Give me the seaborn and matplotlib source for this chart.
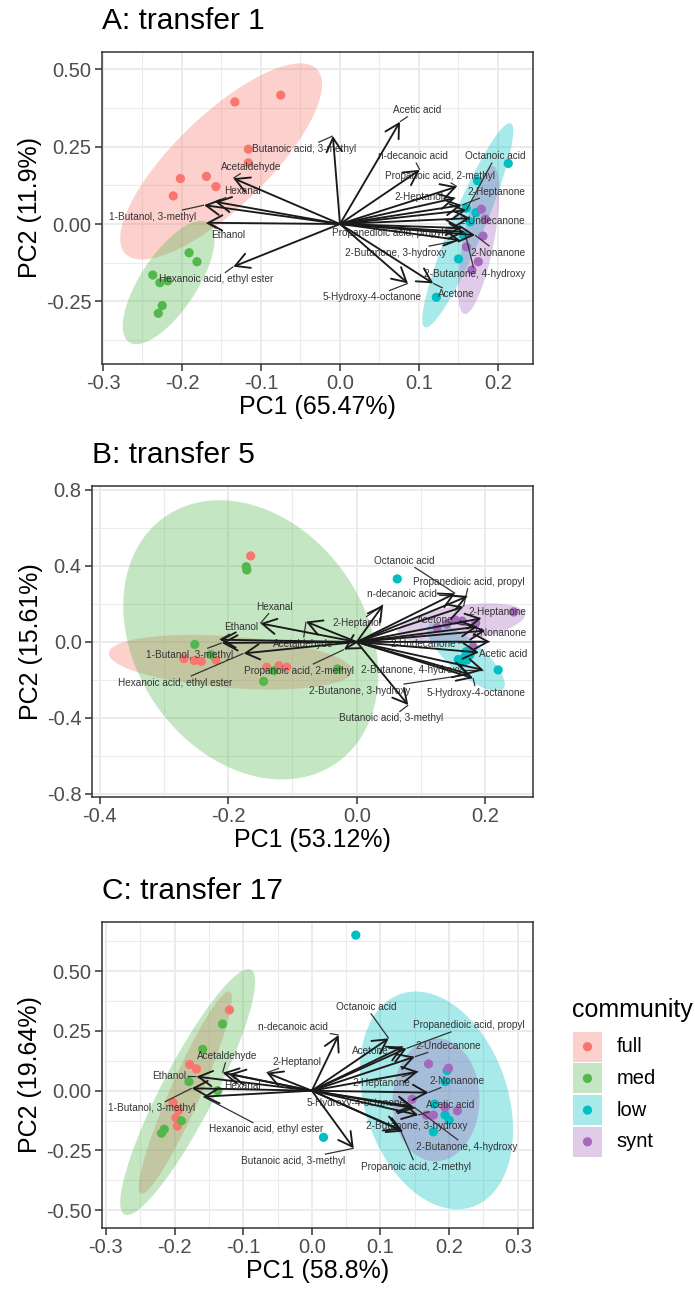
import numpy as np
import pandas as pd
import matplotlib
matplotlib.use("Agg")
import matplotlib.pyplot as plt
import seaborn as sns
from matplotlib.patches import Rectangle, ArrowStyle

W, H, DPI = 695, 1290, 100

GROUPS = ["full", "med", "low", "synt"]
PALETTE = {"full": "#F8766D", "med": "#53B74C", "low": "#00BFC4", "synt": "#A569BD"}

VARIABLES = [
    "Acetic acid", "n-decanoic acid", "Propanoic acid, 2-methyl", "Octanoic acid",
    "2-Heptanone", "2-Heptanol", "2-Undecanone", "Propanedioic acid, propyl",
    "2-Nonanone", "2-Butanone, 3-hydroxy", "2-Butanone, 4-hydroxy",
    "5-Hydroxy-4-octanone", "Acetone", "Butanoic acid, 3-methyl", "Acetaldehyde",
    "Hexanal", "1-Butanol, 3-methyl", "Ethanol", "Hexanoic acid, ethyl ester",
]

# ---- transfer 1: sample scores ----
T1_FULL_PC1 = [-0.075, -0.133, -0.116, -0.116, -0.202, -0.169, -0.157, -0.211]
T1_FULL_PC2 = [0.417, 0.395, 0.242, 0.198, 0.147, 0.154, 0.121, 0.091]
T1_MED_PC1 = [-0.191, -0.181, -0.237, -0.228, -0.218, -0.225, -0.230]
T1_MED_PC2 = [-0.093, -0.122, -0.165, -0.190, -0.184, -0.264, -0.289]
T1_LOW_PC1 = [0.213, 0.174, 0.172, 0.160, 0.156, 0.150, 0.122, 0.165]
T1_LOW_PC2 = [0.196, 0.140, 0.037, 0.051, -0.036, -0.113, -0.237, 0.007]
T1_SYNT_PC1 = [0.179, 0.181, 0.175, 0.160, 0.167, 0.184]
T1_SYNT_PC2 = [0.048, -0.039, -0.122, -0.074, -0.149, 0.016]
# transfer 1: loadings (arrow tips) and label anchors
T1_LOAD_PC1 = [0.076, 0.101, 0.148, 0.160, 0.154, 0.146, 0.165, 0.154, 0.171, 0.152,
               0.158, 0.086, 0.118, -0.009, -0.135, -0.158, -0.172, -0.169, -0.135]
T1_LOAD_PC2 = [0.331, 0.175, 0.121, 0.045, 0.061, 0.084, 0.019, -0.013, -0.036, -0.052,
               -0.026, -0.192, -0.192, 0.285, 0.148, 0.072, 0.061, 0.004, -0.138]
T1_LAB_PC1 = [0.098, 0.092, 0.127, 0.197, 0.198, 0.100, 0.193, 0.061, 0.200, 0.070,
              0.171, 0.041, 0.147, -0.046, -0.113, -0.123, -0.237, -0.142, -0.157]
T1_LAB_PC2 = [0.369, 0.220, 0.155, 0.220, 0.105, 0.088, 0.010, -0.028, -0.093, -0.093,
              -0.162, -0.237, -0.228, 0.243, 0.185, 0.107, 0.024, -0.036, -0.179]

# ---- transfer 5 ----
T5_FULL_PC1 = [-0.165, -0.269, -0.253, -0.242, -0.219, -0.140, -0.121, -0.109]
T5_FULL_PC2 = [0.453, -0.088, -0.098, -0.102, -0.095, -0.133, -0.125, -0.133]
T5_MED_PC1 = [-0.172, -0.171, -0.252, -0.227, -0.129, -0.145, -0.030]
T5_MED_PC2 = [0.396, 0.379, -0.013, -0.066, -0.151, -0.207, -0.142]
T5_LOW_PC1 = [0.063, 0.170, 0.171, 0.164, 0.176, 0.220, 0.168, 0.158]
T5_LOW_PC2 = [0.332, -0.051, -0.095, -0.105, -0.068, -0.147, -0.080, -0.092]
T5_SYNT_PC1 = [0.244, 0.153, 0.164, 0.185, 0.181, 0.125, 0.140]
T5_SYNT_PC2 = [0.158, 0.116, 0.110, 0.100, -0.025, 0.075, 0.095]
T5_LOAD_PC1 = [0.190, 0.172, -0.020, 0.153, 0.194, 0.041, 0.207, 0.166, 0.200, 0.175,
               0.197, 0.181, 0.187, 0.080, -0.079, -0.150, -0.210, -0.213, -0.176]
T5_LOAD_PC2 = [-0.055, 0.240, -0.040, 0.256, 0.125, 0.195, 0.002, 0.186, 0.060, -0.170,
               -0.147, -0.190, 0.080, -0.332, 0.107, 0.098, -0.005, 0.012, -0.060]
T5_LAB_PC1 = [0.227, 0.071, -0.090, 0.074, 0.219, 0.000, 0.104, 0.175, 0.221, 0.005,
              0.085, 0.186, 0.122, 0.053, -0.084, -0.128, -0.260, -0.180, -0.282]
T5_LAB_PC2 = [-0.063, 0.253, -0.151, 0.428, 0.159, 0.098, -0.011, 0.317, 0.046, -0.256,
              -0.147, -0.267, 0.116, -0.402, -0.011, 0.186, -0.068, 0.077, -0.214]

# ---- transfer 17 ----
T17_FULL_PC1 = [-0.120, -0.178, -0.168, -0.202, -0.194, -0.198, -0.196]
T17_FULL_PC2 = [0.338, 0.110, 0.091, -0.050, -0.081, -0.113, -0.148]
T17_MED_PC1 = [-0.130, -0.159, -0.179, -0.137, -0.190, -0.215, -0.219]
T17_MED_PC2 = [0.279, 0.173, 0.038, 0.000, -0.126, -0.161, -0.178]
T17_LOW_PC1 = [0.197, 0.194, 0.179, 0.194, 0.200, 0.177, 0.064, 0.017]
T17_LOW_PC2 = [0.084, 0.038, -0.056, -0.102, -0.123, -0.172, 0.651, -0.195]
T17_SYNT_PC1 = [0.170, 0.199, 0.146, 0.167, 0.177, 0.194, 0.212]
T17_SYNT_PC2 = [0.112, 0.094, -0.036, -0.102, -0.102, -0.069, -0.084]
T17_LOAD_PC1 = [0.155, 0.039, 0.129, 0.112, 0.155, -0.066, 0.150, 0.138, 0.170, 0.133,
                0.148, 0.150, 0.133, 0.061, -0.130, -0.120, -0.175, -0.168, -0.158]
T17_LOAD_PC2 = [-0.102, 0.233, -0.164, 0.219, 0.080, 0.075, 0.142, 0.177, -0.008, -0.171,
                -0.067, -0.074, 0.184, -0.241, 0.075, 0.070, 0.010, 0.059, -0.025]
T17_LAB_PC1 = [0.202, -0.027, 0.152, 0.079, 0.101, -0.021, 0.198, 0.229, 0.212, 0.152,
               0.226, 0.065, 0.085, -0.027, -0.123, -0.101, -0.233, -0.208, -0.067]
T17_LAB_PC2 = [-0.060, 0.266, -0.318, 0.351, 0.031, 0.121, 0.188, 0.274, 0.041, -0.148,
               -0.234, -0.053, 0.166, -0.293, 0.146, 0.020, -0.074, 0.061, -0.162]

TITLES = ["A: transfer 1", "B: transfer 5", "C: transfer 17"]
XTITLES = ["PC1 (65.47%)", "PC1 (53.12%)", "PC1 (58.8%)"]
YTITLES = ["PC2 (11.9%)", "PC2 (15.61%)", "PC2 (19.64%)"]


def scores_frame(parts):
    rows = []
    for g, (xs, ys) in zip(GROUPS, parts):
        rows.append(pd.DataFrame({"PC1": xs, "PC2": ys, "community": g}))
    return pd.concat(rows, ignore_index=True)


def robust_t_cov(xy, nu=5, maxit=25, tol=0.01):
    """Multivariate-t location/scatter (as in MASS::cov.trob)."""
    n, p = xy.shape
    loc = xy.mean(axis=0)
    w = np.ones(n)
    for _ in range(maxit):
        w0 = w
        X = xy - loc
        sw = np.sqrt(w / w.sum())
        _, d, vt = np.linalg.svd(sw[:, None] * X, full_matrices=False)
        wX = (X @ vt.T) / d
        Q = (wX ** 2).sum(axis=1)
        w = (nu + p) / (nu + Q)
        loc = (w[:, None] * xy).sum(axis=0) / w.sum()
        if np.all(np.abs(w - w0) < tol):
            break
    sX = np.sqrt(w)[:, None] * X
    return loc, sX.T @ sX / n


def ellipse_path(xy, level=0.95, segments=120):
    n = len(xy)
    center, shape = robust_t_cov(xy)
    d = n - 1
    qf = (d / 2.0) * ((1 - level) ** (-2.0 / d) - 1)
    radius = np.sqrt(2 * qf)
    ang = np.linspace(0, 2 * np.pi, segments + 1)
    circle = np.column_stack([np.cos(ang), np.sin(ang)])
    L = np.linalg.cholesky(shape)
    return center + radius * (circle @ L.T)


panels = [
    dict(scores=scores_frame([(T1_FULL_PC1, T1_FULL_PC2), (T1_MED_PC1, T1_MED_PC2),
                              (T1_LOW_PC1, T1_LOW_PC2), (T1_SYNT_PC1, T1_SYNT_PC2)]),
         load=(T1_LOAD_PC1, T1_LOAD_PC2), lab=(T1_LAB_PC1, T1_LAB_PC2),
         box=(101.7, 52, 533.3, 364), xlim=(-0.3016, 0.2447), ylim=(-0.453, 0.5566),
         xticks=np.arange(-0.3, 0.25, 0.1), yticks=[-0.25, 0.0, 0.25, 0.5],
         xminor=np.arange(-0.25, 0.2, 0.1), yminor=[-0.375, -0.125, 0.125, 0.375],
         xfmt="{:.1f}", yfmt="{:.2f}"),
    dict(scores=scores_frame([(T5_FULL_PC1, T5_FULL_PC2), (T5_MED_PC1, T5_MED_PC2),
                              (T5_LOW_PC1, T5_LOW_PC2), (T5_SYNT_PC1, T5_SYNT_PC2)]),
         load=(T5_LOAD_PC1, T5_LOAD_PC2), lab=(T5_LAB_PC1, T5_LAB_PC2),
         box=(91.7, 485.7, 532.7, 797), xlim=(-0.4124, 0.2737), ylim=(-0.8158, 0.8226),
         xticks=[-0.4, -0.2, 0.0, 0.2], yticks=[-0.8, -0.4, 0.0, 0.4, 0.8],
         xminor=[-0.3, -0.1, 0.1], yminor=[-0.6, -0.2, 0.2, 0.6],
         xfmt="{:.1f}", yfmt="{:.1f}"),
    dict(scores=scores_frame([(T17_FULL_PC1, T17_FULL_PC2), (T17_MED_PC1, T17_MED_PC2),
                              (T17_LOW_PC1, T17_LOW_PC2), (T17_SYNT_PC1, T17_SYNT_PC2)]),
         load=(T17_LOAD_PC1, T17_LOAD_PC2), lab=(T17_LAB_PC1, T17_LAB_PC2),
         box=(101.7, 921.7, 532.7, 1228), xlim=(-0.3061, 0.3217), ylim=(-0.5745, 0.7071),
         xticks=np.arange(-0.3, 0.31, 0.1), yticks=[-0.5, -0.25, 0.0, 0.25, 0.5],
         xminor=np.arange(-0.25, 0.3, 0.1), yminor=[-0.375, -0.125, 0.125, 0.375, 0.625],
         xfmt="{:.1f}", yfmt="{:.2f}"),
]

sns.set_theme(style="white")
plt.rcParams["font.family"] = ["Liberation Sans", "DejaVu Sans"]
plt.rcParams["axes.unicode_minus"] = False

fig = plt.figure(figsize=(W / DPI, H / DPI), dpi=DPI)
fig.patch.set_facecolor("white")

GRID = "#EBEBEB"
BORDER = "#333333"
TXT = "#4D4D4D"
ARROW = "#1A1A1A"
LABEL = "#333333"
FILL_ALPHA = 0.34

axes = []
for i, p in enumerate(panels):
    x0, y0, x1, y1 = p["box"]
    ax = fig.add_axes([x0 / W, 1 - y1 / H, (x1 - x0) / W, (y1 - y0) / H])
    axes.append(ax)
    ax.set_xlim(*p["xlim"])
    ax.set_ylim(*p["ylim"])
    ax.set_xticks(p["xticks"])
    ax.set_yticks(p["yticks"])
    ax.set_xticklabels([p["xfmt"].format(v) for v in p["xticks"]])
    ax.set_yticklabels([p["yfmt"].format(v) for v in p["yticks"]])
    ax.set_xticks(p["xminor"], minor=True)
    ax.set_yticks(p["yminor"], minor=True)
    ax.grid(True, which="major", color=GRID, lw=1.4, zorder=0)
    ax.grid(True, which="minor", color=GRID, lw=0.75, zorder=0)
    ax.set_axisbelow(True)
    for s in ax.spines.values():
        s.set_color(BORDER)
        s.set_linewidth(1.1)
    ax.tick_params(which="major", length=4.7, width=1.1, color=BORDER,
                   labelsize=14.5, labelcolor=TXT, pad=2.5, bottom=True, left=True)
    ax.tick_params(which="minor", length=0)

    df = p["scores"]
    # confidence ellipses per community
    for g in GROUPS:
        sub = df[df["community"] == g][["PC1", "PC2"]].to_numpy()
        e = ellipse_path(sub)
        ax.fill(e[:, 0], e[:, 1], color=PALETTE[g], alpha=FILL_ALPHA, lw=0, zorder=1)

    sns.scatterplot(data=df, x="PC1", y="PC2", hue="community", hue_order=GROUPS,
                    palette=PALETTE, s=44, edgecolor="none", linewidth=0,
                    legend=False, ax=ax, zorder=3)

    lx, ly = p["lab"]
    tx, ty = p["load"]
    texts = []
    for name, a, b in zip(VARIABLES, lx, ly):
        texts.append(ax.text(a, b, name, ha="center", va="center", fontsize=7.2,
                             color=LABEL, zorder=4))
    p["texts"] = texts

    for a, b in zip(tx, ty):
        ax.annotate("", xy=(a, b), xytext=(0, 0),
                    arrowprops=dict(arrowstyle=ArrowStyle("->", head_length=1.0, head_width=0.55),
                                    mutation_scale=10, color=ARROW, lw=1.35,
                                    shrinkA=0, shrinkB=0),
                    zorder=5)

    ax.set_xlabel(XTITLES[i], fontsize=18, color="black", labelpad=1.5)
    ax.set_ylabel(YTITLES[i], fontsize=18, color="black", labelpad=3)
    ax.text(0, 1 + 17 / (y1 - y0), TITLES[i], transform=ax.transAxes, fontsize=21.5,
            color="black", ha="left", va="bottom")

# connector segments between repelled labels and arrow tips
fig.canvas.draw()
renderer = fig.canvas.get_renderer()
for ax, p in zip(axes, panels):
    tx, ty = p["load"]
    inv = ax.transData.inverted()
    for t, a, b in zip(p["texts"], tx, ty):
        bb = t.get_window_extent(renderer)
        px, py = ax.transData.transform((a, b))
        pad = 1.5
        bx0, bx1, by0, by1 = bb.x0 - pad, bb.x1 + pad, bb.y0 - pad, bb.y1 + pad
        if bx0 <= px <= bx1 and by0 <= py <= by1:
            continue
        cx, cy = (bb.x0 + bb.x1) / 2, (bb.y0 + bb.y1) / 2
        dx, dy = px - cx, py - cy
        cand = []
        if dx != 0:
            cand.append(((bx1 if dx > 0 else bx0) - cx) / dx)
        if dy != 0:
            cand.append(((by1 if dy > 0 else by0) - cy) / dy)
        k = min(cand)
        ex, ey = cx + k * dx, cy + k * dy
        if np.hypot(px - ex, py - ey) < 7:
            continue
        s0 = inv.transform((ex, ey))
        ax.plot([s0[0], a], [s0[1], b], color=LABEL, lw=0.9, zorder=4,
                solid_capstyle="butt")

# legend for the community groups
leg = fig.add_axes([0, 0, 1, 1])
leg.set_xlim(0, W)
leg.set_ylim(H, 0)
leg.axis("off")
leg.text(571.7, 1010, "community", fontsize=18, color="black", ha="left", va="center")
for j, g in enumerate(GROUPS):
    cy = 1046.7 + j * 31.7
    leg.add_patch(Rectangle((573.3, cy - 15), 28.5, 30, facecolor=PALETTE[g],
                            alpha=FILL_ALPHA, lw=0))
    leg.scatter([587.5], [cy], s=44, color=PALETTE[g], edgecolor="none")
    leg.text(616.7, cy, g, fontsize=14.5, color="black", ha="left", va="center")

fig.savefig("out.png", dpi=DPI)
